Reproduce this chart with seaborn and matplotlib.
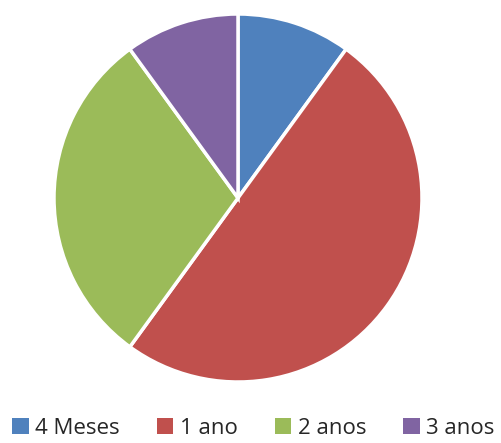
import matplotlib
matplotlib.use("Agg")
import matplotlib.pyplot as plt
import seaborn as sns
from matplotlib.patches import Patch

# -------------------------------
# DATA
# -------------------------------

labels = ["4 Meses", "1 ano", "2 anos", "3 anos"]
values = [10, 50, 30, 10]
colors = ["#4F81BD", "#C0504D", "#9BBB59", "#8064A2"]

# -------------------------------
# PLOT
# -------------------------------

sns.set_theme(style="white")
plt.rcParams["font.family"] = ["Open Sans", "DejaVu Sans"]

W, H = 502, 443
fig = plt.figure(figsize=(W / 100, H / 100), dpi=100)

cx, cy, r = 238, 198, 184
ax = fig.add_axes([(cx - r) / W, 1 - (cy + r) / H, 2 * r / W, 2 * r / H])

pal = sns.color_palette(colors)
ax.pie(
    values,
    colors=pal,
    startangle=90,
    counterclock=False,
    radius=1.0,
    wedgeprops=dict(edgecolor="white", linewidth=2.5),
)
ax.set_xlim(-1.0, 1.0)
ax.set_ylim(-1.0, 1.0)
ax.set_aspect("equal")
ax.axis("off")

handles = [Patch(facecolor=c, edgecolor="none") for c in pal]
fig.legend(
    handles,
    labels,
    loc="lower center",
    bbox_to_anchor=(0.505, -0.035),
    ncol=4,
    frameon=False,
    fontsize=16,
    handlelength=0.75,
    handleheight=0.75,
    handletextpad=0.3,
    columnspacing=1.65,
)

fig.savefig("out.png", dpi=100, facecolor="white")
